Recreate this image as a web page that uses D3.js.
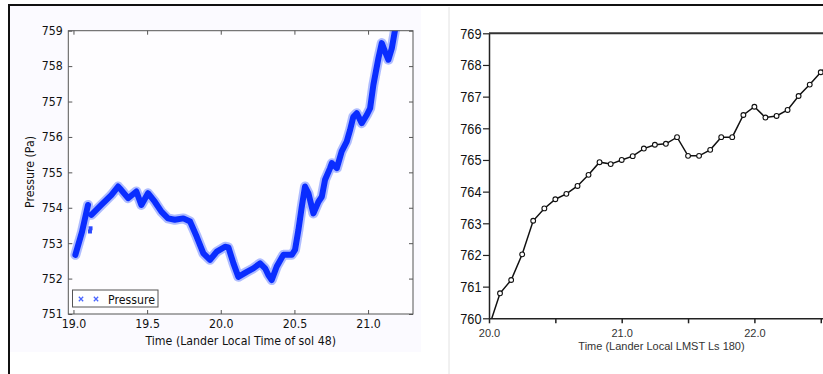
<!DOCTYPE html>
<html>
<head>
<meta charset="utf-8">
<script src="https://cdn.jsdelivr.net/npm/d3@7"></script>
<style>
body { margin: 0; background: #fff; }
svg { display: block; }
</style>
</head>
<body>
<div id="chart"></div>
<script>
// left panel - pressure trace, sol 48 (null = gap)
const solTime = [19.013, 19.058, 19.099, 19.11, 19.1215, 19.189, 19.257, 19.303, 19.325, 19.371,
    19.427, 19.461, 19.506, 19.552, 19.597, 19.642, 19.688, 19.746, 19.792, 19.837,
    19.882, 19.927, 19.973, 20.029, 20.052, 20.086, 20.119, 20.177, 20.221, 20.267,
    20.301, 20.323, 20.346, 20.38, 20.425, 20.459, 20.482, 20.504, 20.527, 20.55,
    20.572, 20.595, 20.629, 20.663, 20.686, 20.708, 20.742, 20.754, 20.788, 20.821,
    20.855, 20.878, 20.9, 20.923, 20.957, 20.991, 21.014, 21.036, 21.07, 21.093,
    21.115, 21.138, 21.161, 21.183, 21.204];
const solPressure = [752.67, 753.32, 754.08, null, 753.80, 754.08, 754.36, 754.60, 754.50, 754.27,
    754.46, 754.08, 754.41, 754.17, 753.89, 753.70, 753.66, 753.70, 753.61, 753.18,
    752.71, 752.53, 752.76, 752.90, 752.88, 752.43, 752.05, 752.19, 752.29, 752.43,
    752.29, 752.10, 751.96, 752.34, 752.67, 752.67, 752.67, 752.81, 753.37, 754.03,
    754.60, 754.41, 753.84, 754.17, 754.31, 754.79, 755.12, 755.26, 755.12, 755.59,
    755.87, 756.20, 756.57, 756.67, 756.39, 756.62, 756.81, 757.47, 758.22, 758.65,
    758.41, 758.18, 758.50, 759.02, 759.3];
const strayTime = [19.112, 19.116];
const strayPressure = [753.33, 753.42];
const solTicksX = [19.0, 19.5, 20.0, 20.5, 21.0];
const solTicksY = [751, 752, 753, 754, 755, 756, 757, 758, 759];

// right panel - pressure every 5 minutes, Ls 180
const lsTime = [20.000, 20.083, 20.167, 20.250, 20.333, 20.417, 20.500, 20.583, 20.667, 20.750,
    20.833, 20.917, 21.000, 21.083, 21.167, 21.250, 21.333, 21.417, 21.500, 21.583,
    21.667, 21.750, 21.833, 21.917, 22.000, 22.083, 22.167, 22.250, 22.333, 22.417,
    22.500, 22.583];
const lsPressure = [759.73, 760.79, 761.21, 762.02, 763.08, 763.47, 763.76, 763.93, 764.18, 764.53,
    764.93, 764.87, 765.00, 765.12, 765.36, 765.48, 765.51, 765.72, 765.13, 765.13,
    765.32, 765.72, 765.72, 766.42, 766.68, 766.34, 766.39, 766.58, 767.02, 767.38,
    767.77, 768.10];
const lsTicksX = [20.0, 20.5, 21.0, 21.5, 22.0, 22.5];
const lsTicksY = [760, 761, 762, 763, 764, 765, 766, 767, 768, 769];

var W = 823, H = 374;
var squishL = 0.92, squishR = 0.85;

var svg = d3.select("#chart").append("svg")
    .attr("width", W)
    .attr("height", H);

svg.append("defs").append("clipPath").attr("id", "clipL")
    .append("rect").attr("x", 68.3).attr("y", 30.7).attr("width", 344.7).attr("height", 283.3);
svg.select("defs").append("clipPath").attr("id", "clipR")
    .append("rect").attr("x", 489).attr("y", 33.3).attr("width", 340).attr("height", 285);

// page frame bits
svg.append("rect").attr("x", 9).attr("y", 5).attr("width", 412).attr("height", 347).attr("fill", "#fbfaff");
svg.append("line").attr("x1", 449).attr("x2", 449).attr("y1", 7).attr("y2", H)
    .attr("stroke", "#e2e2e2").attr("stroke-width", 1);
svg.append("line").attr("x1", 9).attr("x2", W).attr("y1", 5).attr("y2", 5)
    .attr("stroke", "#111").attr("stroke-width", 2);
svg.append("line").attr("x1", 9).attr("x2", 9).attr("y1", 4).attr("y2", H)
    .attr("stroke", "#111").attr("stroke-width", 2);

// ---------- left panel ----------
var xL = d3.scaleLinear().domain([18.965, 21.305]).range([68.3, 413]);
var yL = d3.scaleLinear().domain([751, 759]).range([314, 30.7]);
var fontL = "DejaVu Sans, Bitstream Vera Sans, sans-serif";

svg.append("rect")
    .attr("x", 68.3).attr("y", 30.7).attr("width", 344.7).attr("height", 283.3)
    .attr("fill", "#fefdff");

var solData = solTime.map(function (t, i) { return [t, solPressure[i]]; });
var solLine = d3.line()
    .defined(function (d) { return d[1] != null; })
    .x(function (d) { return xL(d[0]); })
    .y(function (d) { return yL(d[1]); });

var trace = svg.append("g").attr("clip-path", "url(#clipL)");
trace.append("path")
    .datum(solData)
    .attr("fill", "none")
    .attr("stroke", "#6d86ff")
    .attr("stroke-opacity", 0.55)
    .attr("stroke-width", 10)
    .attr("stroke-linejoin", "round")
    .attr("stroke-linecap", "round")
    .attr("d", solLine);
trace.append("path")
    .datum(solData)
    .attr("fill", "none")
    .attr("stroke", "#0a2dff")
    .attr("stroke-width", 6)
    .attr("stroke-linejoin", "round")
    .attr("stroke-linecap", "round")
    .attr("d", solLine);
trace.selectAll("rect.stray")
    .data(strayTime.map(function (t, i) { return [t, strayPressure[i]]; }))
    .enter().append("rect")
    .attr("class", "stray")
    .attr("x", function (d) { return xL(d[0]) - 2; })
    .attr("y", function (d) { return yL(d[1]) - 2; })
    .attr("width", 4).attr("height", 4)
    .attr("fill", "#2a48ff");

// inward ticks on all four sides
function styleLeftAxis(g) {
    g.select(".domain").remove();
    g.selectAll(".tick line").attr("stroke", "#555");
    g.selectAll("text").attr("fill", "#111").style("font-family", fontL).style("font-size", "12px");
}

var axB = svg.append("g").attr("transform", "translate(0,314)")
    .call(d3.axisBottom(xL).tickValues(solTicksX).tickFormat(d3.format(".1f"))
        .tickSize(-4).tickSizeOuter(0).tickPadding(5))
    .call(styleLeftAxis);
axB.selectAll("text").attr("transform", "scale(" + squishL + ",1)");

var axLft = svg.append("g").attr("transform", "translate(68.3,0)")
    .call(d3.axisLeft(yL).tickValues(solTicksY).tickFormat(d3.format("d"))
        .tickSize(-4).tickSizeOuter(0).tickPadding(5.6))
    .call(styleLeftAxis);
axLft.selectAll("text").attr("x", -5.6 / squishL).attr("transform", "scale(" + squishL + ",1)");

svg.append("g").attr("transform", "translate(0,30.7)")
    .call(d3.axisTop(xL).tickValues(solTicksX).tickFormat("").tickSize(-4).tickSizeOuter(0))
    .call(styleLeftAxis);
svg.append("g").attr("transform", "translate(413,0)")
    .call(d3.axisRight(yL).tickValues(solTicksY).tickFormat("").tickSize(-4).tickSizeOuter(0))
    .call(styleLeftAxis);

svg.append("rect")
    .attr("x", 68.3).attr("y", 30.7).attr("width", 344.7).attr("height", 283.3)
    .attr("fill", "none").attr("stroke", "#555").attr("stroke-width", 1);

svg.append("text")
    .attr("transform", "translate(240.7,345) scale(" + squishL + ",1)")
    .attr("text-anchor", "middle")
    .style("font-family", fontL).style("font-size", "12px").attr("fill", "#111")
    .text("Time (Lander Local Time of sol 48)");

svg.append("text")
    .attr("transform", "translate(34,172) rotate(-90) scale(" + squishL + ",1)")
    .attr("text-anchor", "middle")
    .style("font-family", fontL).style("font-size", "12px").attr("fill", "#111")
    .text("Pressure (Pa)");

// legend
var leg = svg.append("g");
leg.append("rect").attr("x", 72.5).attr("y", 290).attr("width", 85.5).attr("height", 17)
    .attr("fill", "#fff").attr("stroke", "#555").attr("stroke-width", 1);
var xSym = d3.symbol().type(d3.symbolTimes || d3.symbolCross).size(14);
leg.selectAll("path.mk")
    .data([81, 96])
    .enter().append("path")
    .attr("class", "mk")
    .attr("transform", function (d) { return "translate(" + d + ",299)"; })
    .attr("d", xSym)
    .attr("fill", "none")
    .attr("stroke", "#4a66ff")
    .attr("stroke-width", 1.3);
leg.append("text")
    .attr("transform", "translate(108,303.5) scale(" + squishL + ",1)")
    .style("font-family", fontL).style("font-size", "12px").attr("fill", "#111")
    .text("Pressure");

// ---------- right panel ----------
var xR = d3.scaleLinear().domain([20, 22.6]).range([489, 489 + 2.6 * 132.7]);
var yR = d3.scaleLinear().domain([760, 769]).range([318.3, 33.3]);
var fontR = "Liberation Sans, Arial, Helvetica, sans-serif";

var axRB = svg.append("g").attr("transform", "translate(0,318.3)")
    .call(d3.axisBottom(xR).tickValues(lsTicksX)
        .tickFormat(function (d) { return d % 1 === 0 ? d3.format(".1f")(d) : ""; })
        .tickSize(5).tickSizeOuter(0).tickPadding(6));
axRB.select(".domain").attr("stroke", "#222").attr("stroke-width", 1.5);
axRB.selectAll(".tick line").attr("stroke", "#222").attr("stroke-width", 1.5);
axRB.selectAll("text").attr("fill", "#333").style("font-family", fontR).style("font-size", "11px");

var axRL = svg.append("g").attr("transform", "translate(489,0)")
    .call(d3.axisLeft(yR).tickValues(lsTicksY).tickFormat(d3.format("d"))
        .tickSize(6).tickSizeOuter(0).tickPadding(1));
axRL.select(".domain").attr("stroke", "#222").attr("stroke-width", 1.5);
axRL.selectAll(".tick line").attr("stroke", "#222").attr("stroke-width", 1.2);
axRL.selectAll("text")
    .attr("fill", "#111")
    .attr("x", -7.5 / squishR)
    .attr("transform", "scale(" + squishR + ",1)")
    .style("font-family", fontR).style("font-size", "15px");

svg.append("line")
    .attr("x1", xR(20)).attr("x2", W).attr("y1", yR(769)).attr("y2", yR(769))
    .attr("stroke", "#333").attr("stroke-width", 2);

var lsData = lsTime.map(function (t, i) { return [t, lsPressure[i]]; });
var plotR = svg.append("g").attr("clip-path", "url(#clipR)");
plotR.append("path")
    .datum(lsData)
    .attr("fill", "none")
    .attr("stroke", "#111")
    .attr("stroke-width", 1.5)
    .attr("d", d3.line()
        .x(function (d) { return xR(d[0]); })
        .y(function (d) { return yR(d[1]); }));
plotR.selectAll("circle")
    .data(lsData.slice(1))
    .enter().append("circle")
    .attr("cx", function (d) { return xR(d[0]); })
    .attr("cy", function (d) { return yR(d[1]); })
    .attr("r", 2.4)
    .attr("fill", "#fff")
    .attr("stroke", "#111")
    .attr("stroke-width", 1.1);

svg.append("text")
    .attr("x", 661.5).attr("y", 349.5)
    .attr("text-anchor", "middle")
    .style("font-family", fontR).style("font-size", "11px").attr("fill", "#333")
    .text("Time (Lander Local LMST Ls 180)");
</script>
</body>
</html>
